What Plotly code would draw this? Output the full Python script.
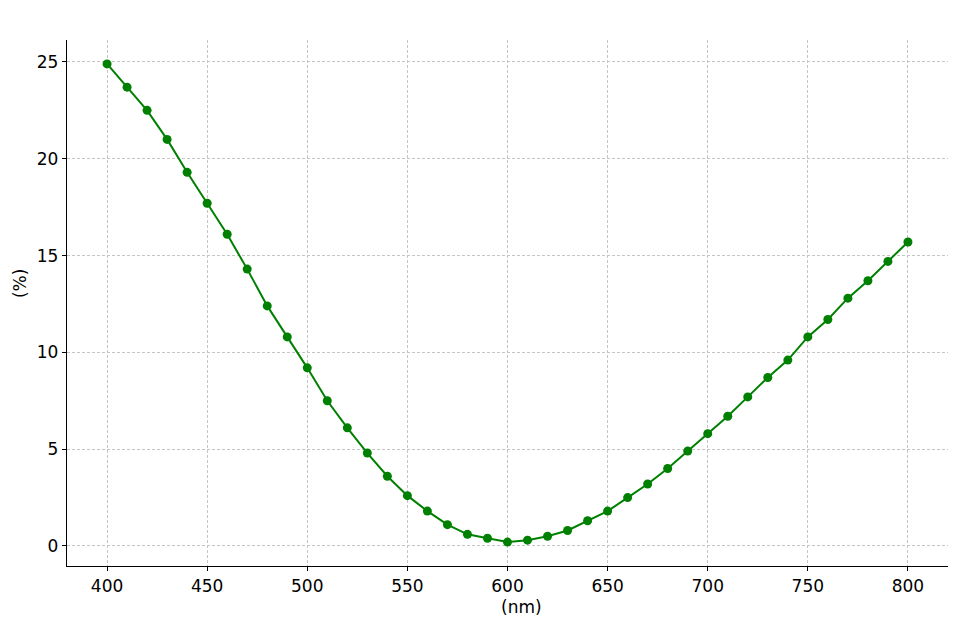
import plotly.graph_objects as go

wavelength_nm = list(range(400, 801, 10))
percent = [24.9, 23.7, 22.5, 21.0, 19.3, 17.7, 16.1, 14.3, 12.4, 10.8,
           9.2, 7.5, 6.1, 4.8, 3.6, 2.6, 1.8, 1.1, 0.6, 0.4,
           0.2, 0.3, 0.5, 0.8, 1.3, 1.8, 2.5, 3.2, 4.0, 4.9,
           5.8, 6.7, 7.7, 8.7, 9.6, 10.8, 11.7, 12.8, 13.7, 14.7, 15.7]
x_ticks = [400, 450, 500, 550, 600, 650, 700, 750, 800]
y_ticks = [0, 5, 10, 15, 20, 25]
x_label = "(nm)"
y_label = "(%)"

FONT = dict(family="DejaVu Sans", size=17, color="black")

fig = go.Figure(go.Scatter(
    x=wavelength_nm, y=percent, mode="lines+markers",
    line=dict(color="green", width=2),
    marker=dict(color="green", size=9),
    showlegend=False,
))

axis_common = dict(
    showline=True, linecolor="black", linewidth=1.3, mirror=False,
    ticks="outside", ticklen=4, tickwidth=1.2, tickcolor="black",
    showgrid=True, gridcolor="#c4c4c4", gridwidth=0.9, griddash="3px,2px",
    zeroline=False, tickfont=FONT, automargin=False,
)

fig.update_xaxes(range=[380, 820], tickvals=x_ticks, **axis_common)
fig.update_yaxes(range=[-1.035, 26.135], tickvals=y_ticks, **axis_common)

fig.add_annotation(text=x_label, xref="paper", yref="paper",
                   x=0.5155, y=-0.078, xanchor="center", yanchor="middle",
                   showarrow=False, font=FONT)
fig.add_annotation(text=y_label, xref="paper", yref="paper",
                   x=-0.0533, y=0.536, xanchor="center", yanchor="middle",
                   textangle=-90, showarrow=False, font=FONT)

fig.update_layout(
    width=960, height=627,
    margin=dict(l=59, r=20, t=32, b=69),
    plot_bgcolor="white", paper_bgcolor="white",
)

fig.write_html("out.html")
